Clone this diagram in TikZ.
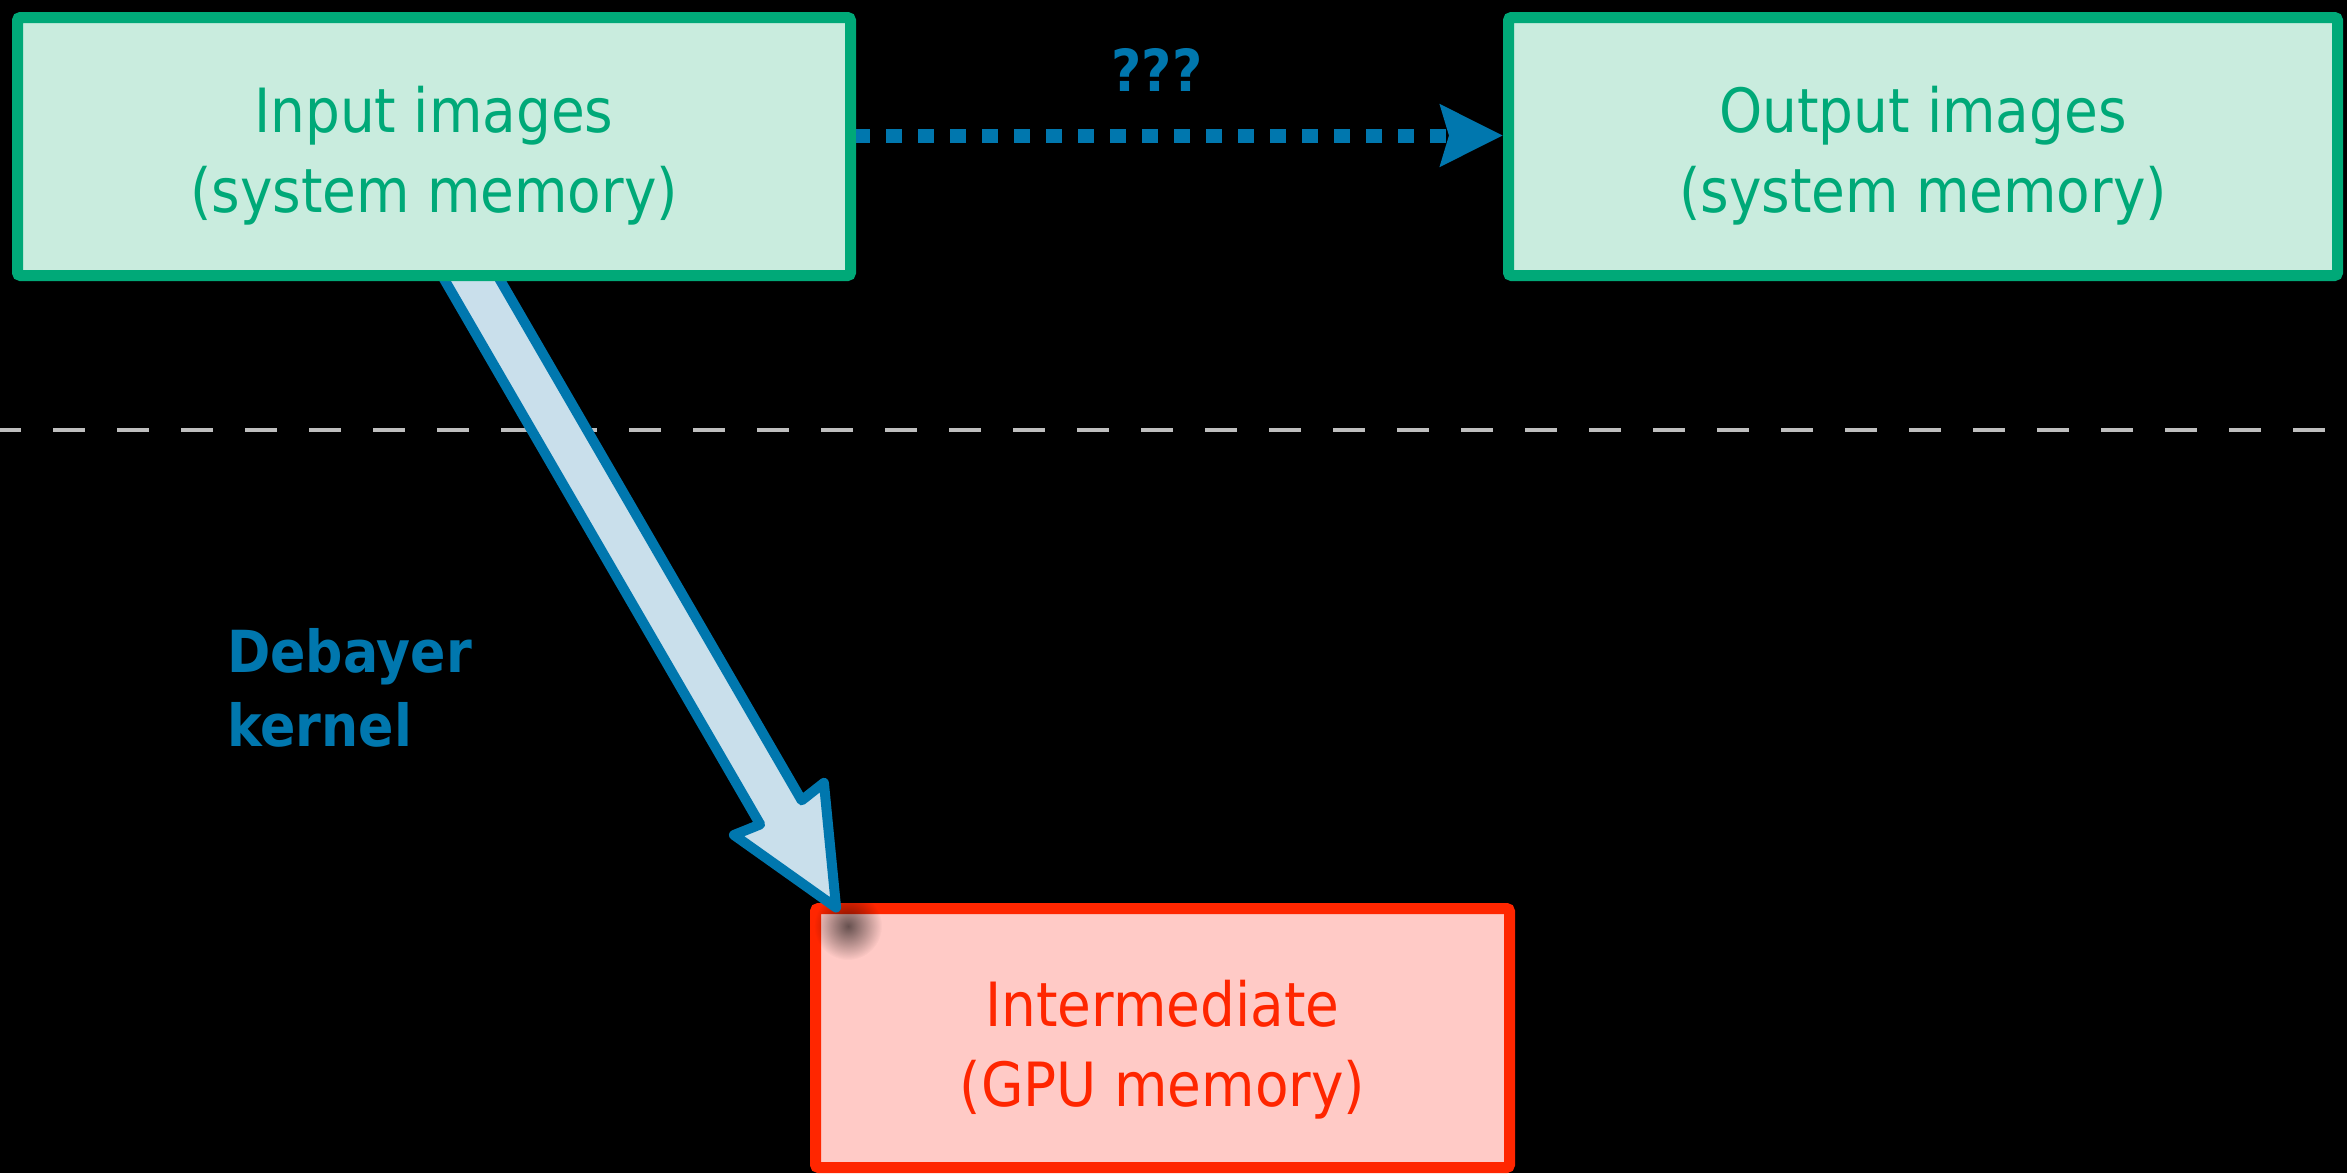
\documentclass[tikz,border=0pt]{standalone}
\usepackage{fontspec}
\setmainfont{DejaVu Sans Condensed}
\usetikzlibrary{arrows.meta,fadings}
\definecolor{grn}{RGB}{0,169,120}
\definecolor{grnfill}{RGB}{201,236,222}
\definecolor{redc}{RGB}{255,38,0}
\definecolor{redfill}{RGB}{255,202,198}
\definecolor{blu}{RGB}{0,119,174}
\definecolor{blufill}{RGB}{201,223,235}
\definecolor{dashgray}{RGB}{190,190,190}
\tikzfading[name=softspot, inner color=transparent!0, outer color=transparent!100]
\begin{document}
\begin{tikzpicture}[x=1pt,y=1pt,
  membox/.style={draw, line width=11pt, rounded corners=3pt, inner sep=0pt},
  greenbox/.style={membox, draw=grn, fill=grnfill, minimum height=258pt},
  redbox/.style={membox, draw=redc, fill=redfill, minimum width=694pt, minimum height=259pt},
  boxtext/.style={align=center, inner sep=0pt, font=\fontsize{61}{80}\selectfont},
  bluetext/.style={text=blu, inner sep=0pt, font=\bfseries\fontsize{58}{74}\selectfont},
  dotarrow/.style={draw=blu, line width=14pt, dash pattern=on 16pt off 16pt, dash phase=2pt,
    -{Stealth[length=62pt, width=60pt, inset=8pt, fill=blu]}},
  divider/.style={draw=dashgray, line width=4pt, dash pattern=on 32pt off 32pt},
  bigarrow/.style={draw=blu, fill=blufill, line width=10pt, line join=round}
]
\fill[black] (0,0) rectangle (2347,-1173);
\useasboundingbox (0,0) rectangle (2347,-1173);

% divider
\coordinate (dl) at (-11,-430);
\coordinate (dr) at (2347,-430);
\draw[divider] (dl) -- (dr);

% intermediate box
\node[redbox] (midbox) at (1162.5,-1038) {};
\node[boxtext, text=redc] (midlabel) at (1162.5,-1050) {Intermediate\\(GPU memory)};

% soft shadow under arrow tip
\fill[black, opacity=0.6, path fading=softspot] (848,-926) circle (34);

% big arrow (Debayer kernel)
\coordinate (bstart) at (470,-276);
\begin{scope}[shift={(bstart)}, rotate=-59.9]
  \draw[bigarrow] (-30,24) -- (620,24) -- (616,52) -- (730,0) -- (616,-52) -- (620,-24) -- (-30,-24) -- cycle;
\end{scope}

% top boxes
\node[greenbox, minimum width=833pt] (inbox) at (434,-146.5) {};
\node[boxtext, text=grn] (inlabel) at (434,-156) {Input images\\(system memory)};
\node[greenbox, minimum width=829pt] (outbox) at (1923,-146.5) {};
\node[boxtext, text=grn] (outlabel) at (1923,-156) {Output images\\(system memory)};

% dotted arrow
\draw[dotarrow] ([yshift=11pt]inbox.east) -- ([yshift=11pt]outbox.west);
\node[bluetext, anchor=base] (qq) at (1157,-91) {???};

% label
\node[bluetext, align=left, anchor=base west] (deb) at (227,-746) {Debayer\\kernel};
\end{tikzpicture}
\end{document}
